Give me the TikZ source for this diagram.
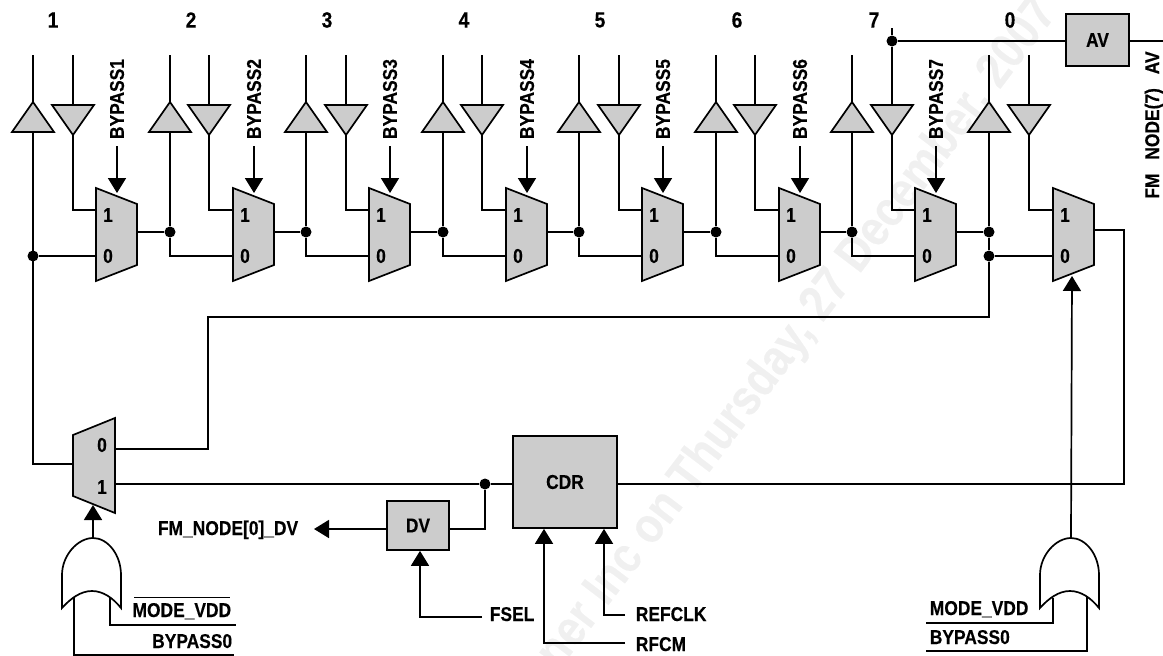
\documentclass[tikz,border=0pt]{standalone}
\usepackage{fontspec}
\setmainfont[FakeStretch=0.87,BoldFont={Liberation Sans Bold},BoldFeatures={FakeBold=0.3}]{Liberation Sans}
\usepackage{xcolor}
\usetikzlibrary{arrows.meta, positioning}
\definecolor{blockgray}{gray}{0.8}
\definecolor{markgray}{gray}{0.94}

\begin{document}
\begin{tikzpicture}[x=1pt,y=-1pt,line width=1.7pt,line join=miter]
\tikzstyle{dot}=[circle,fill,inner sep=0pt,minimum size=11pt]
\tikzstyle{block}=[draw,fill=blockgray,inner sep=0pt,font=\bfseries\fontsize{20}{20}\selectfont]
\tikzstyle{lbl}=[inner sep=0pt,font=\bfseries\fontsize{20}{20}\selectfont]
\tikzstyle{arr}=[-{Triangle[length=15pt,width=18pt]},shorten >=0pt]
\useasboundingbox (0,0) rectangle (1163,656);

% Watermark
\node[inner sep=0pt,rotate=52.8,text=markgray,font=\bfseries\fontsize{50}{50}\selectfont] (mark) at (798,334) {ner Inc on Thursday, 27 December, 2007};

% Output line to AV
\node[block,minimum width=63pt,minimum height=52pt] (av) at (1097.5,40) {AV};
\node[dot] (avdot) at (892,41) {};
\coordinate (avtop) at (892,28);
\coordinate (avout) at (1163,41);
\draw (avtop) -- (avdot) -- (av.west |- avdot);
\draw (av.east |- avdot) -- (avout);
\node[lbl,rotate=90] (avlabel) at (1154,125) {FM\hspace{9pt} NODE(7)\hspace{9pt} AV};

% Stages
\foreach \i/\ux/\dx/\mx in {1/33/73/96,2/170/209/233,3/306/346/369,4/443/482/506,5/579/619/642,6/716/755/779,7/852/892/915,8/989/1029/1053}{
  % Buffers
  \coordinate (upbase\i) at (\ux,132);
  \coordinate (uptip\i) at (\ux,102);
  \coordinate (dnbase\i) at (\dx,105);
  \coordinate (dntip\i) at (\dx,135);
  \coordinate (uptop\i) at (\ux,55);
  \coordinate (dntop\i) at (\dx,55);
  \draw[fill=blockgray] (uptip\i) -- ++(21,30) -- ++(-42,0) -- cycle;
  \draw[fill=blockgray] (dntip\i) -- ++(21,-30) -- ++(-42,0) -- cycle;
  \draw (uptop\i) -- (uptip\i);
  % Mux
  \draw[fill=blockgray] (\mx,188) -- ++(41,16) -- ++(0,61) -- ++(-41,16) -- cycle;
  \coordinate (muxa\i) at (\mx,210);
  \coordinate (muxb\i) at (\mx,256);
  \coordinate (muxout\i) at (\mx+41,232);
  \node[lbl] (one\i) at (\mx+12,215) {1};
  \node[lbl] (zero\i) at (\mx+12,256) {0};
  \draw (dntip\i) |- (muxa\i);
}
% Top stubs of the down buffers, stage 7 starts higher
\foreach \i in {1,2,3,4,5,6,8}{
  \draw (dntop\i) -- (dnbase\i);
}
\draw (avdot) -- (dnbase7);

% Bypass selects
\foreach \i/\mx in {1/96,2/233,3/369,4/506,5/642,6/779,7/915}{
  \node[lbl,rotate=90] (bypass\i) at (\mx+21,99) {BYPASS\i};
  \coordinate (bypassend\i) at (\mx+21,146);
  \coordinate (bypasstip\i) at (\mx+21,193);
  \draw[arr] (bypassend\i) -- (bypasstip\i);
}

% Port labels
\foreach \i/\x/\t in {1/53/1,2/191/2,3/327/3,4/464/4,5/600/5,6/737/6,7/874/7,8/1010/0}{
  \node[lbl,font=\bfseries\fontsize{22}{22}\selectfont] (port\i) at (\x,20) {\t};
}

% Chain between stages
\foreach \i/\j in {1/2,2/3,3/4,4/5,5/6,6/7,7/8}{
  \node[dot] (join\j) at (uptop\j |- muxout\i) {};
  \draw (muxout\i) -- (join\j);
  \draw (upbase\j) -- (join\j);
}
\foreach \i in {2,3,4,5,6,7}{
  \draw (join\i) |- (muxb\i);
}
\node[dot] (lowjoin) at (989,256) {};
\node[dot] (firstjoin) at (33,256) {};
\draw (firstjoin) -- (muxb1);
\draw (lowjoin) -- (muxb8);
\draw (join8) -- (lowjoin);

% Loopback mux
\draw[fill=blockgray] (73,435) -- (115,418) -- (115,513) -- (73,496) -- cycle;
\coordinate (loopout) at (73,464);
\coordinate (loopa) at (115,449);
\coordinate (loopb) at (115,484);
\coordinate (loopsel) at (93,505);
\coordinate (loopturn) at (208,317);
\node[lbl] (loopzero) at (102,445) {0};
\node[lbl] (loopone) at (102,487) {1};
\draw (upbase1) -- (loopout -| upbase1) -- (loopout);
\draw (loopa) -| (loopturn) -| (lowjoin);

% CDR and DV
\node[block,minimum width=104pt,minimum height=92pt] (cdr) at (565,482) {CDR};
\node[block,minimum width=62pt,minimum height=49pt] (dv) at (418,525.5) {DV};
\node[dot] (cdrdot) at (485,484) {};
\draw (loopb) -- (cdrdot) -- (cdrdot -| cdr.west);
\draw (cdrdot) |- (dv.east |- 0,529);
\node[lbl,anchor=base east] (dvout) at (299,535) {FM\_NODE[0]\_DV};
\coordinate (dvend) at (314,529);
\draw[arr] (dv.west |- dvend) -- (dvend);

% Clock and select inputs
\node[lbl,anchor=base west] (fsel) at (489,621) {FSEL};
\node[lbl,anchor=base west] (refclk) at (635,621) {REFCLK};
\node[lbl,anchor=base west] (rfcm) at (635,651) {RFCM};
\coordinate (fselend) at (482,617);
\coordinate (refclkend) at (625,615);
\coordinate (rfcmend) at (625,643);
\draw[arr] (fselend) -| (dv.south -| 420,0);
\draw[arr] (refclkend) -| (cdr.south -| 604,0);
\draw[arr] (rfcmend) -| (cdr.south -| 544,0);

% Right hand return
\coordinate (retturn) at (1124,230);
\draw (cdr.east |- cdrdot) -| (retturn) -- (muxout8 |- retturn);

% OR gates
\foreach \n/\gx in {left/93,right/1071}{
  \coordinate (gate\n) at (\gx,538);
  \draw (\gx-31,608) -- (\gx-31,575) .. controls (\gx-31,555) and (\gx-15,538) .. (gate\n)
    .. controls (\gx+15,538) and (\gx+28,555) .. (\gx+28,575) -- (\gx+28,608)
    .. controls (\gx+20,598) and (\gx+10,591) .. (\gx-1,591)
    .. controls (\gx-12,591) and (\gx-22,598) .. cycle;
}
\coordinate (seltipleft) at (93,505);
\coordinate (seltipright) at (1072,276);
\draw[arr] (gateleft) -- (seltipleft);
\draw[arr] (gateright) -- (seltipright);

% OR gate inputs
\coordinate (lfa) at (110,598);
\coordinate (lfb) at (74,597);
\coordinate (lfaend) at (236,625);
\coordinate (lfbend) at (234,655);
\coordinate (rta) at (1053,598);
\coordinate (rtb) at (1087,596);
\coordinate (rtaend) at (926,623);
\coordinate (rtbend) at (926,651);
\draw (lfa) |- (lfaend);
\draw (lfb) |- (lfbend);
\draw (rta) |- (rtaend);
\draw (rtb) |- (rtbend);
\node[lbl,anchor=base east] (modeleft) at (232,617) {MODE\_VDD};
\node[lbl,anchor=base east] (bypassleft) at (233,648) {BYPASS0};
\node[lbl,anchor=base west] (moderight) at (929,615) {MODE\_VDD};
\node[lbl,anchor=base west] (bypassright) at (929,644) {BYPASS0};
\coordinate (barstart) at (134,597);
\coordinate (barend) at (230,597);
\draw[line width=1pt] (barstart) -- (barend);
\end{tikzpicture}
\end{document}
